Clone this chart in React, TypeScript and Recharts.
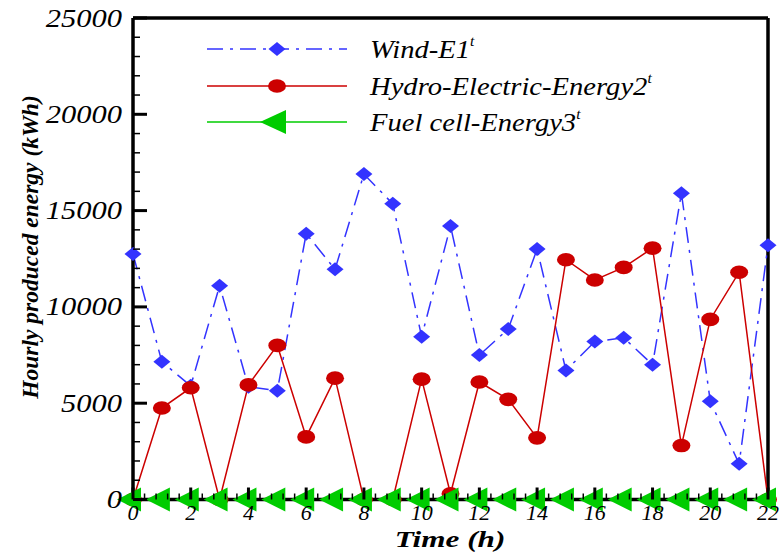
import React from 'react';
import { LineChart, Line, XAxis, YAxis, ReferenceLine } from 'recharts';

const hours = [0, 1, 2, 3, 4, 5, 6, 7, 8, 9, 10, 11, 12, 13, 14, 15, 16, 17, 18, 19, 20, 21, 22];
const windE1 = [12750, 7150, 5900, 11100, 5850, 5650, 13800, 11950, 16900, 15350, 8450, 14200, 7500, 8850, 13000, 6700, 8200, 8400, 7000, 15900, 5100, 1850, 13200];
const hydroE2 = [0, 4750, 5800, 0, 5950, 8000, 3250, 6300, 0, 0, 6250, 300, 6100, 5200, 3200, 12450, 11400, 12050, 13050, 2800, 9350, 11800, 0];
const fuelE3 = [0, 0, 0, 0, 0, 0, 0, 0, 0, 0, 0, 0, 0, 0, 0, 0, 0, 0, 0, 0, 0, 0, 0];

const yTickLabels = [0, 5000, 10000, 15000, 20000, 25000];
const xTickLabels = [0, 2, 4, 6, 8, 10, 12, 14, 16, 18, 20, 22];
const Y_MINOR = 1000;
const X_MINOR = 0.4;

const W = 781;
const H = 553;
const PLOT_LEFT = 133;
const PLOT_RIGHT = 768;
const PLOT_TOP = 18;
const PLOT_BOTTOM = 499.5;

const FONT = "'Liberation Serif', 'Times New Roman', Times, serif";
const BLUE = '#3333ff';
const RED = '#cc0000';
const GREEN = '#00cc00';

const textStyle = (size: number, bold = false): React.CSSProperties => ({
  fontFamily: FONT,
  fontStyle: 'italic',
  fontWeight: bold ? 700 : 400,
  fontSize: size,
});

const data = hours.map((h, i) => ({ hour: h, wind: windE1[i], hydro: hydroE2[i], fuel: fuelE3[i] }));

const yTicks: number[] = [];
for (let v = 0; v <= 25000; v += Y_MINOR) yTicks.push(v);
const xTicks: number[] = [];
for (let i = 0; i * X_MINOR <= 22 + 1e-9; i++) xTicks.push(Math.round(i * X_MINOR * 10) / 10);

const diamondPath = (cx: number, cy: number) =>
  `M${cx},${cy - 7} L${cx + 8.5},${cy} L${cx},${cy + 7} L${cx - 8.5},${cy} Z`;
const trianglePath = (cx: number, cy: number) =>
  `M${cx - 16},${cy} L${cx + 8},${cy - 12} L${cx + 8},${cy + 12} Z`;

const DiamondDot = (p: any) => {
  if (p.cx == null || p.cy == null) return null;
  return <path key={`d-${p.index}`} d={diamondPath(p.cx, p.cy)} fill={BLUE} />;
};
const CircleDot = (p: any) => {
  if (p.cx == null || p.cy == null) return null;
  return <ellipse key={`c-${p.index}`} cx={p.cx} cy={p.cy} rx={9} ry={6.8} fill={RED} />;
};
const TriangleDot = (p: any) => {
  if (p.cx == null || p.cy == null) return null;
  return <path key={`t-${p.index}`} d={trianglePath(p.cx, p.cy)} fill={GREEN} />;
};

const YTick = (p: any) => {
  const v = p.payload.value;
  const y = p.y;
  const major = yTickLabels.includes(v);
  return (
    <g>
      <line x1={PLOT_LEFT} x2={PLOT_LEFT + (major ? 14 : 7)} y1={y} y2={y} stroke="#000" strokeWidth={major ? 3 : 1.5} />
      {major && (
        <g transform={`translate(${PLOT_LEFT - 11},${y}) scale(1.22,1)`}>
          <text x={0} y={0} textAnchor="end" dominantBaseline="central" style={textStyle(25)} fill="#000">
            {v}
          </text>
        </g>
      )}
    </g>
  );
};

const XTick = (p: any) => {
  const v = p.payload.value;
  const x = p.x;
  const major = xTickLabels.includes(v);
  return (
    <g>
      <line x1={x} x2={x} y1={PLOT_BOTTOM} y2={PLOT_BOTTOM - (major ? 12 : 6)} stroke="#000" strokeWidth={major ? 3 : 1.5} />
      {major && (
        <text x={x} y={PLOT_BOTTOM + 13} textAnchor="middle" dominantBaseline="central" style={textStyle(22)} fill="#000">
          {v}
        </text>
      )}
    </g>
  );
};

const YTitle = () => (
  <text
    transform={`translate(30,247) rotate(-90)`}
    textAnchor="middle"
    dominantBaseline="central"
    style={textStyle(23.5, true)}
    fill="#000"
  >
    Hourly produced energy (kWh)
  </text>
);

const XTitle = () => (
  <g transform={`translate(450,547) scale(1.3,1)`}>
    <text x={0} y={0} textAnchor="middle" style={textStyle(24, true)} fill="#000">
      Time (h)
    </text>
  </g>
);

const legendItems = [
  { name: 'Wind-E1', color: BLUE, dash: '16 7 3 7', marker: 'diamond', y: 49 },
  { name: 'Hydro-Electric-Energy2', color: RED, dash: undefined, marker: 'circle', y: 86 },
  { name: 'Fuel cell-Energy3', color: GREEN, dash: undefined, marker: 'triangle', y: 122 },
];

const LegendOverlay = () => (
  <svg width={W} height={H} style={{ position: 'absolute', left: 0, top: 0, pointerEvents: 'none' }}>
    {legendItems.map((it) => (
      <g key={it.name}>
        <line x1={207} x2={347} y1={it.y} y2={it.y} stroke={it.color} strokeWidth={1.5} strokeDasharray={it.dash} />
        {it.marker === 'diamond' && <path d={diamondPath(277, it.y)} fill={it.color} />}
        {it.marker === 'circle' && <ellipse cx={277} cy={it.y} rx={9} ry={6.8} fill={it.color} />}
        {it.marker === 'triangle' && <path d={`M${260},${it.y} L${286},${it.y - 12} L${286},${it.y + 12} Z`} fill={it.color} />}
        <g transform={`translate(370,${it.y + 9}) scale(1.1,1)`}>
          <text x={0} y={0} style={textStyle(26)} fill="#000">
            {it.name}
            <tspan style={{ fontSize: 14 }} dy={-12}>t</tspan>
          </text>
        </g>
      </g>
    ))}
  </svg>
);

export default function App() {
  return (
    <div style={{ position: 'absolute', left: 0, top: 0, width: W, height: H, background: '#fff' }}>
      <LineChart
        width={W}
        height={H}
        data={data}
        margin={{ top: PLOT_TOP, right: W - PLOT_RIGHT, bottom: 0, left: 0 }}
      >
        <XAxis
          dataKey="hour"
          type="number"
          domain={[0, 22]}
          ticks={xTicks}
          interval={0}
          height={H - PLOT_BOTTOM}
          axisLine={{ stroke: '#000', strokeWidth: 3.5 }}
          tickLine={false}
          tick={<XTick />}
          label={<XTitle />}
        />
        <YAxis
          type="number"
          domain={[0, 25000]}
          ticks={yTicks}
          interval={0}
          width={PLOT_LEFT}
          axisLine={{ stroke: '#000', strokeWidth: 3.5 }}
          tickLine={false}
          tick={<YTick />}
          label={<YTitle />}
        />
        <ReferenceLine y={25000} stroke="#000" strokeWidth={3.5} />
        <ReferenceLine x={22} stroke="#000" strokeWidth={3.5} />
        <Line
          dataKey="wind"
          stroke={BLUE}
          strokeWidth={1.5}
          strokeDasharray="16 7 3 7"
          dot={<DiamondDot />}
          activeDot={false}
          isAnimationActive={false}
        />
        <Line
          dataKey="hydro"
          stroke={RED}
          strokeWidth={1.5}
          dot={<CircleDot />}
          activeDot={false}
          isAnimationActive={false}
        />
        <Line
          dataKey="fuel"
          stroke={GREEN}
          strokeWidth={1.5}
          dot={<TriangleDot />}
          activeDot={false}
          isAnimationActive={false}
        />
      </LineChart>
      <LegendOverlay />
    </div>
  );
}
